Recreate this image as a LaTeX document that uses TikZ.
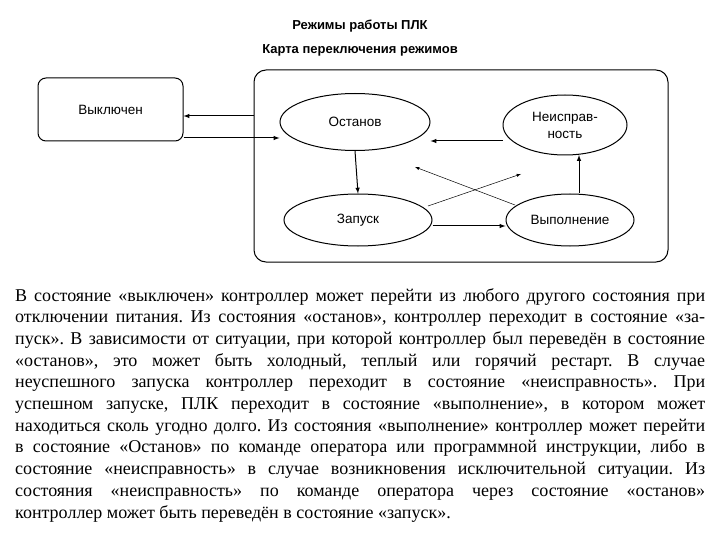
\documentclass[tikz,border=0pt]{standalone}
\usepackage{fontspec}
\setmainfont{Liberation Serif}
\newfontfamily\dfont{Liberation Sans}
\usetikzlibrary{shapes.geometric}
\frenchspacing
\begin{document}
\begin{tikzpicture}[x=1pt,y=-1pt,
  st/.style={draw,ellipse,line width=1pt,font=\dfont\fontsize{13.5}{17}\selectfont,align=center,inner sep=0pt},
  ar/.style={-latex,line width=1pt},
  thin/.style={-latex,line width=0.5pt}]
\useasboundingbox (0,0) rectangle (720,540);
\node[font=\dfont\bfseries\fontsize{13}{15}\selectfont] (t1) at (360,26) {Режимы работы ПЛК};
\node[font=\dfont\bfseries\fontsize{13}{15}\selectfont] (t2) at (360,50) {Карта переключения режимов};
\node[draw,rounded corners=12pt,line width=1pt,minimum width=414pt,minimum height=192pt] (outer) at (461,166) {};
\node[draw,rounded corners=8pt,line width=1pt,minimum width=145pt,minimum height=63pt,font=\dfont\fontsize{13.5}{17}\selectfont] (off) at (110.5,109.5) {Выключен};
\node[st,minimum width=150pt,minimum height=57pt] (stop) at (355,122) {Останов};
\node[st,minimum width=124pt,minimum height=60pt] (fault) at (565,125) {Неисправ-\\ность};
\node[st,minimum width=148pt,minimum height=52pt] (start) at (358,220) {Запуск};
\node[st,minimum width=128pt,minimum height=52pt] (run) at (570,220) {Выполнение};
\coordinate (o1) at (254,116);
\draw[ar] (o1) -- (off.east |- o1);
\draw[ar] (off.east |- 0,138) -- (stop.west |- 0,138);
\draw[ar] (fault.west |- 0,141) -- (stop.east |- 0,141);
\draw[ar] (stop.south) -- (start.north);
\draw[ar] (start.east |- 0,226) -- (run.west |- 0,226);
\draw[ar] (run.north -| 579,0) -- (579,155);
\draw[thin] (515,205) -- (415,167);
\draw[thin] (428,206) -- (521,174);
\node[anchor=north west,inner sep=0pt,text width=690pt,align=justify,font=\fontsize{18}{21.7}\selectfont] (txt) at (15,288) {%
В состояние «выключен» контроллер может перейти из любого другого состояния при\linebreak
отключении питания. Из состояния «останов», контроллер переходит в состояние «за-\linebreak
пуск». В зависимости от ситуации, при которой контроллер был переведён в состояние\linebreak
«останов», это может быть холодный, теплый или горячий рестарт. В случае\linebreak
неуспешного запуска контроллер переходит в состояние «неисправность». При\linebreak
успешном запуске, ПЛК переходит в состояние «выполнение», в котором может\linebreak
находиться сколь угодно долго. Из состояния «выполнение» контроллер может перейти\linebreak
в состояние «Останов» по команде оператора или программной инструкции, либо в\linebreak
состояние «неисправность» в случае возникновения исключительной ситуации. Из\linebreak
состояния «неисправность» по команде оператора через состояние «останов»\linebreak
контроллер может быть переведён в состояние «запуск».};
\end{tikzpicture}
\end{document}
